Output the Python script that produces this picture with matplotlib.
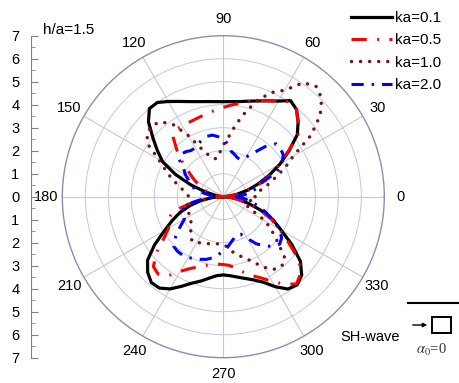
import numpy as np
import matplotlib
matplotlib.use("Agg")
import matplotlib.pyplot as plt
from matplotlib.lines import Line2D
from matplotlib.patches import Rectangle

plt.rcParams['font.family'] = ['Liberation Sans', 'DejaVu Sans']
plt.rcParams['mathtext.fontset'] = 'stix'

# angles (degrees) at which the radii were read
theta_deg = np.arange(0, 361, 5)

r_ka01 = [0, 0.2, 0.6, 1.1, 1.6, 2.2, 2.85, 3.5, 4.2, 4.6, 4.95, 5.1, 4.8, 4.6, 4.43, 4.3, 4.2, 4.15,
          4.13, 4.15, 4.2, 4.28, 4.4, 4.57, 4.78, 5.0, 5.0, 4.6, 4.0, 3.5, 3.05, 2.3, 1.5, 0.8, 0.35, 0.1,
          0, 0.5, 1.0, 1.5, 2.0, 2.45, 2.95, 3.65, 4.3, 4.65, 4.87, 4.85, 4.63, 4.3, 4.0, 3.8, 3.6, 3.45,
          3.4, 3.45, 3.55, 3.68, 3.85, 4.1, 4.52, 4.9, 5.0, 4.82, 4.38, 3.65, 2.9, 2.4, 1.75, 1.15, 0.65, 0.3,
          0]
r_ka05 = [0, 0.3, 0.75, 1.2, 1.75, 2.3, 2.8, 3.45, 4.25, 4.6, 4.95, 5.05, 4.8, 4.6, 4.45, 4.28, 4.12, 4.0,
          3.88, 3.78, 3.7, 3.63, 3.58, 3.56, 3.56, 3.58, 3.4, 2.85, 2.3, 1.8, 1.45, 1.15, 0.9, 0.6, 0.35, 0.15,
          0, 0.6, 1.3, 2.0, 2.45, 2.6, 2.75, 3.15, 3.8, 4.3, 4.4, 4.2, 3.75, 3.45, 3.25, 3.1, 3.0, 2.94,
          2.95, 3.0, 3.15, 3.4, 3.65, 3.9, 4.25, 4.65, 4.95, 4.75, 4.3, 3.45, 2.8, 2.3, 1.7, 1.1, 0.6, 0.25,
          0]
r_ka10 = [1.38, 1.42, 1.65, 2.0, 2.4, 2.95, 3.5, 4.65, 5.5, 6.05, 6.27, 6.05, 5.35, 5.0, 4.5, 3.85, 3.2, 2.6,
          2.25, 1.9, 1.68, 1.72, 1.95, 2.35, 3.1, 3.85, 4.25, 4.38, 4.32, 4.03, 3.25, 2.78, 2.42, 2.07, 1.8, 1.6,
          1.5, 1.55, 1.58, 1.6, 1.65, 1.67, 1.65, 1.7, 1.85, 2.0, 2.2, 2.37, 2.3, 2.22, 2.17, 2.12, 2.08, 2.06,
          2.08, 2.2, 2.45, 2.65, 2.85, 3.15, 3.55, 3.85, 3.95, 3.8, 3.1, 2.58, 2.1, 1.35, 1.05, 1.05, 1.15, 1.28,
          1.38]
r_ka20 = [0.5, 0.9, 1.25, 1.55, 1.8, 2.6, 2.95, 3.18, 3.25, 3.25, 2.85, 2.35, 2.0, 1.78, 1.8, 1.9, 2.0, 2.3,
          2.5, 2.62, 2.72, 2.72, 2.65, 2.55, 2.45, 2.45, 2.55, 2.6, 2.5, 2.1, 1.9, 1.65, 1.45, 1.3, 0.85, 0.55,
          0.3, 0.8, 1.3, 1.75, 1.9, 1.9, 1.95, 2.3, 2.7, 3.05, 3.1, 3.1, 3.05, 2.98, 2.9, 2.82, 2.7, 2.54,
          2.35, 2.2, 2.0, 1.85, 1.75, 1.8, 2.1, 2.5, 2.8, 3.05, 3.2, 3.1, 2.8, 2.4, 1.95, 1.6, 1.2, 0.9,
          0.5]

labels = ['ka=0.1', 'ka=0.5', 'ka=1.0', 'ka=2.0']
angle_labels = [str(a) for a in range(0, 360, 30)]
radial_ticks = list(range(-7, 8))

W, H = 460, 383
fig = plt.figure(figsize=(W / 100, H / 100), dpi=100)

cx, cy, R = 223.3, 196.7, 161.0
ax = fig.add_axes([(cx - R) / W, (H - cy - R) / H, 2 * R / W, 2 * R / H], projection='polar')
th = np.deg2rad(theta_deg)

ax.plot(th, r_ka01, color='black', lw=2.3, ls='-', label=labels[0], zorder=3)
ax.plot(th, r_ka05, color='#ff0000', lw=2.2, ls=(0, (5, 3.4, 0.6, 3.4)), label=labels[1], zorder=4)
ax.plot(th, r_ka10, color='#7a1010', lw=2.5, ls=(0, (0.01, 2.6)), dash_capstyle='round',
        label=labels[2], zorder=4)
ax.plot(th, r_ka20, color='#0000ff', lw=2.2, ls=(0, (4, 2.6, 0.8, 2.6)), label=labels[3], zorder=5)

ax.set_ylim(0, 7)
ax.set_rticks([1, 2, 3, 4, 5, 6])
ax.set_yticklabels([])
ax.set_thetagrids(range(0, 360, 30), angle_labels, fontsize=10.5)
ax.set_xticks(np.deg2rad(np.arange(15, 360, 30)), minor=True)
ax.tick_params(axis='x', which='major', pad=5, length=0)
ax.tick_params(axis='x', which='minor', direction='in', length=4, color='#8c8cb4', width=0.8)
ax.xaxis.grid(True, color='#c8c8c8', lw=0.8)
ax.yaxis.grid(True, color='#c4c4ee', lw=0.7)
ax.spines['polar'].set_color('#8c8cb4')
ax.spines['polar'].set_linewidth(1.0)

# left radial scale
axl = fig.add_axes([30.5 / W, (H - cy - R) / H, 0.0001, 2 * R / H])
axl.set_ylim(-7, 7)
axl.set_yticks(radial_ticks)
axl.set_yticklabels([str(abs(v)) for v in radial_ticks], fontsize=10.5)
axl.set_yticks(np.arange(-6.5, 7, 1), minor=True)
axl.tick_params(axis='y', which='major', direction='in', length=5, pad=8, color='#808080')
axl.tick_params(axis='y', which='minor', direction='in', length=3, color='#808080')
axl.set_xticks([])
for s in ['top', 'right', 'bottom']:
    axl.spines[s].set_visible(False)
axl.spines['left'].set_color('#808080')
axl.patch.set_visible(False)

fig.text(43 / W, 1 - 30 / H, 'h/a=1.5', fontsize=11, va='center', ha='left')

leg = fig.legend(loc='upper right', bbox_to_anchor=(441 / W, 1 - 11 / H), frameon=False,
                 fontsize=11, handlelength=2.7, handletextpad=0.2, labelspacing=0.55,
                 borderpad=0, borderaxespad=0)

# SH-wave annotation
fig.add_artist(Line2D([408 / W, 460 / W], [1 - 303 / H, 1 - 303 / H], color='black', lw=1.5))
fig.text(340 / W, 1 - 337 / H, 'SH-wave', fontsize=10.5, va='center', ha='left')
ax.annotate('', xy=(430 / W, 1 - 325 / H), xytext=(410 / W, 1 - 325 / H),
            xycoords='figure fraction', textcoords='figure fraction',
            arrowprops=dict(arrowstyle='-|>', color='black', lw=1, mutation_scale=6))
fig.add_artist(Rectangle((432 / W, 1 - 333 / H), 19 / W, 16 / H, fill=False, lw=1.4,
                         edgecolor='black', transform=fig.transFigure))
fig.text(431 / W, 1 - 350 / H, r'$\alpha_0$=0', fontsize=10.5, va='center', ha='center',
         family='Liberation Serif', color='#333333')

fig.savefig('out.png', dpi=100)
